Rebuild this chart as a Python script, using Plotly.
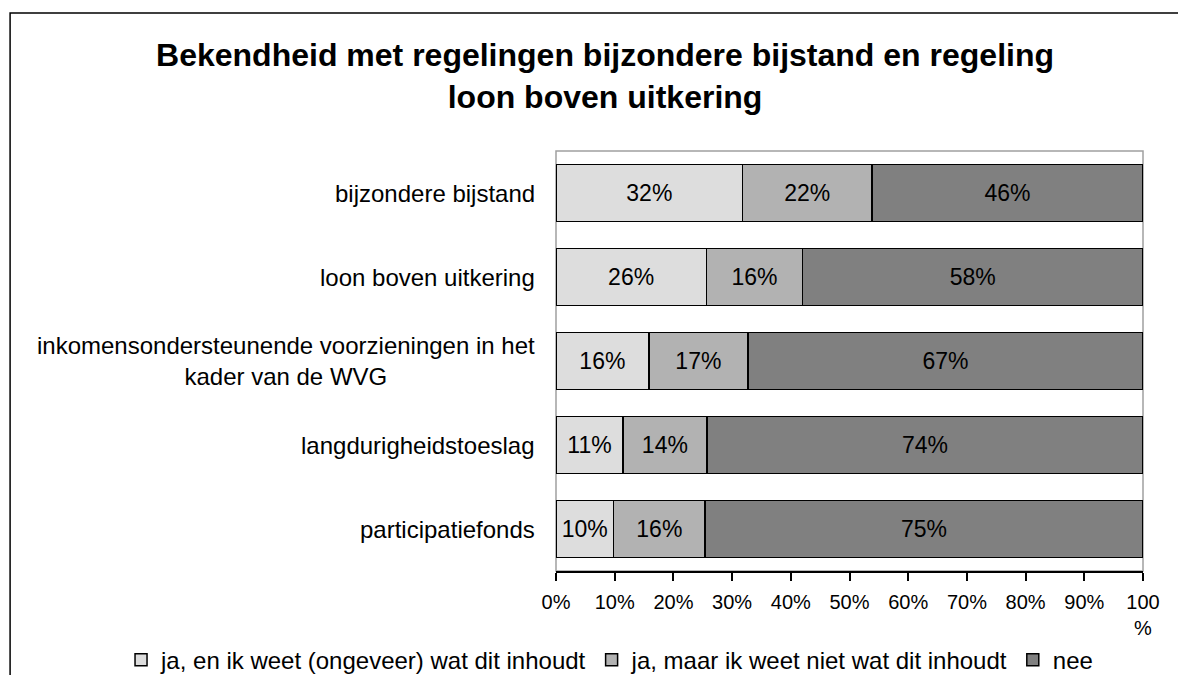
import plotly.graph_objs as go

# categories top to bottom
categories = [
    "bijzondere bijstand",
    "loon boven uitkering",
    "inkomensondersteunende voorzieningen in het<br>kader van de WVG",
    "langdurigheidstoeslag",
    "participatiefonds",
]

series_names = [
    "ja, en ik weet (ongeveer) wat dit inhoudt",
    "ja, maar ik weet niet wat dit inhoudt",
    "nee",
]

# shares in % (labels show rounded values)
ja_weet = [31.8, 25.6, 15.8, 11.4, 9.8]
ja_niet = [22.0, 16.4, 16.9, 14.3, 15.6]
nee = [46.2, 58.0, 67.3, 74.3, 74.6]

colors = ["#dddddd", "#b2b2b2", "#808080"]

tick_vals = [0, 10, 20, 30, 40, 50, 60, 70, 80, 90, 100]
tick_text = ["0%", "10%", "20%", "30%", "40%", "50%", "60%", "70%", "80%", "90%", "100<br>%"]

font_family = "Liberation Sans, Arial, sans-serif"

fig = go.Figure()
for name, vals, col in zip(series_names, [ja_weet, ja_niet, nee], colors):
    fig.add_trace(go.Bar(
        name=name,
        y=categories,
        x=vals,
        orientation='h',
        marker=dict(color=col, line=dict(color='#000000', width=1.5)),
        texttemplate="%{x:.0f}%",
        textposition='inside',
        insidetextanchor='middle',
        constraintext='none',
        textfont=dict(size=23, color='#000000', family=font_family),
        hoverinfo='skip'
    ))

# category labels as centred annotations (multi-line label is centred)
annotations = []
for cat in categories:
    annotations.append(dict(
        text=cat, xref='paper', yref='y', x=-0.032, y=cat,
        xanchor='right', yanchor='middle', align='center', showarrow=False,
        font=dict(size=24, color='#000000', family=font_family)
    ))

shapes = [
    # outer chart frame (cut off at right/bottom)
    dict(type='path', xref='paper', yref='paper',
         path='M 1.2,1.3286 L -0.930,1.3286 L -0.930,-0.5',
         line=dict(color='#000000', width=1.5)),
    # plot area border
    dict(type='rect', xref='paper', yref='paper', x0=0, x1=1, y0=0, y1=1,
         line=dict(color='#a0a0a0', width=1.5), layer='below'),
]

# page body adds 8px, margins compensate for it
fig.update_layout(
    width=1186, height=675,
    margin=dict(l=548, r=51, t=143, b=112, autoexpand=False),
    paper_bgcolor='white', plot_bgcolor='white',
    barmode='stack', bargap=0.32,
    font=dict(family=font_family, color='#000000'),
    title=dict(
        text="<b>Bekendheid met regelingen bijzondere bijstand en regeling<br>loon boven uitkering</b>",
        x=0.5034, xanchor='center', xref='container',
        y=0.914, yanchor='top', yref='container',
        font=dict(size=32, color='#000000', family=font_family)
    ),
    xaxis=dict(
        range=[0, 100], tickvals=tick_vals, ticktext=tick_text,
        showgrid=False, zeroline=False,
        showline=True, linecolor='#000000', linewidth=1.5,
        ticks='outside', ticklen=8, tickcolor='#000000', tickwidth=1.5,
        ticklabelstandoff=4,
        tickfont=dict(size=20, color='#000000', family=font_family)
    ),
    yaxis=dict(
        autorange='reversed', showticklabels=False, showgrid=False,
        zeroline=False, showline=False
    ),
    showlegend=True,
    legend=dict(
        orientation='h', x=-0.741, xanchor='left', y=-0.212, yanchor='middle',
        itemwidth=30, traceorder='normal',
        font=dict(size=24, color='#000000', family=font_family),
        bgcolor='rgba(0,0,0,0)'
    ),
    annotations=annotations,
    shapes=shapes,
)

fig.write_html("out.html")
